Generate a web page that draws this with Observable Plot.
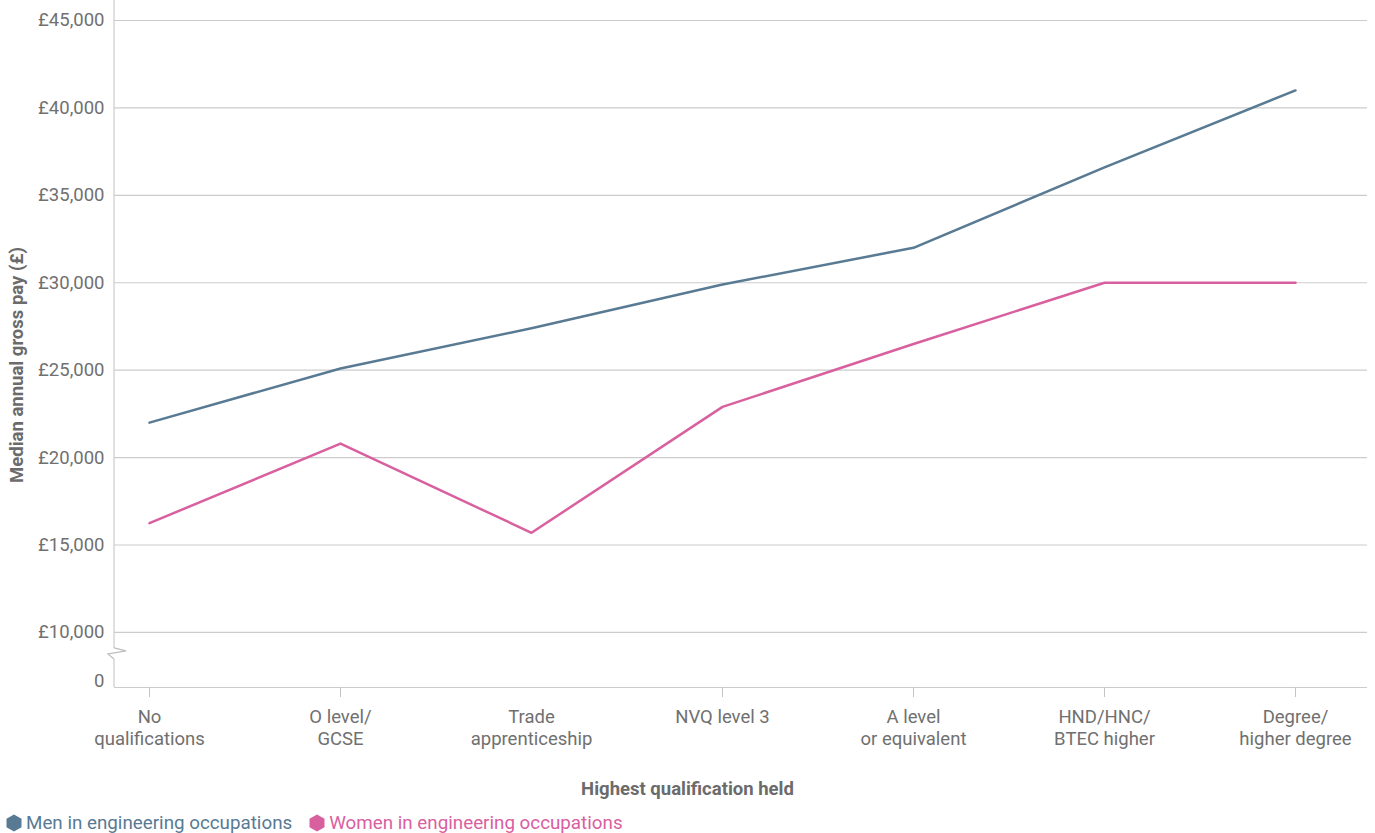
<!DOCTYPE html>
<html>
<head>
<meta charset="utf-8">
<script src="https://cdn.jsdelivr.net/npm/d3@7"></script>
<script src="https://cdn.jsdelivr.net/npm/@observablehq/plot@0.6"></script>
<style>
  body { margin: 0; background: #fff; font-family: Roboto, "Noto Sans", sans-serif; }
  #xtitle { width: 1375px; text-align: center; font-weight: 700; font-size: 18.5px; color: #6b6b6b; line-height: 22px; margin-top: 16px; }
  #legend { display: flex; align-items: center; margin: 12px 0 0 6px; font-size: 18.8px; line-height: 22px; }
  #legend .item { display: flex; align-items: center; margin-right: 17px; }
  #legend svg { margin-right: 4px; }
</style>
</head>
<body>
<div id="chart"></div>
<div id="xtitle">Highest qualification held</div>
<div id="legend"></div>
<script>
// Median annual gross pay by highest qualification held
const qualifications = [
  "No qualifications", "O level/GCSE", "Trade apprenticeship", "NVQ level 3",
  "A level or equivalent", "HND/HNC/BTEC higher", "Degree/higher degree"
];
const qualificationLabels = [
  "No\nqualifications", "O level/\nGCSE", "Trade\napprenticeship", "NVQ level 3",
  "A level\nor equivalent", "HND/HNC/\nBTEC higher", "Degree/\nhigher degree"
];
// categories that carry a tick mark on the x axis
const tickedQualifications = [
  "No qualifications", "O level/GCSE", "NVQ level 3",
  "A level or equivalent", "HND/HNC/BTEC higher", "Degree/higher degree"
];
const seriesNames = ["Men in engineering occupations", "Women in engineering occupations"];
const seriesColors = ["#587a93", "#d9609f"];
const menPay = [22000, 25100, 27400, 29900, 32000, 36600, 41000];
const womenPay = [16250, 20800, 15700, 22900, 26500, 30000, 30000];
const yTicks = [10000, 15000, 20000, 25000, 30000, 35000, 40000, 45000];
const baseTicks = [0];

const rows = [
  ...qualifications.map((q, i) => ({qualification: q, pay: menPay[i], series: seriesNames[0]})),
  ...qualifications.map((q, i) => ({qualification: q, pay: womenPay[i], series: seriesNames[1]}))
];
const labelOf = new Map(qualifications.map((q, i) => [q, qualificationLabels[i]]));
const money = d3.format(",");
const textColor = "#707070";
const lineGrey = "#cccccc";
const fontSize = 18.5;

// The stretch from 0 to £10,000 is squeezed into a short broken segment.
const breakStart = 10000;
const breakSpan = 3150;
const squeeze = v => v >= breakStart ? v : breakStart - breakSpan + v * breakSpan / breakStart;

// left axis line, interrupted by a zig-zag below £10,000
function leftAxis(index, scales, values, dims) {
  const x0 = dims.marginLeft;
  const bottom = dims.height - dims.marginBottom;
  const yb = scales.y(breakStart) + 21.5;
  const g = d3.create("svg:g")
    .attr("fill", "none").attr("stroke", lineGrey).attr("stroke-width", 1.2);
  g.append("line").attr("x1", x0).attr("x2", x0).attr("y1", 0).attr("y2", yb - 5.5);
  g.append("line").attr("x1", x0).attr("x2", x0).attr("y1", yb + 5.5).attr("y2", bottom);
  g.append("polyline")
    .attr("points", `${x0},${yb - 5.5} ${x0 + 12},${yb - 2.5} ${x0 - 6},${yb + 0.5} ${x0},${yb + 5.5}`)
    .attr("stroke", "#bdbdbd");
  return g.node();
}

const chart = Plot.plot({
  width: 1375,
  height: 762,
  marginLeft: 114,
  marginRight: 8,
  marginTop: 20,
  marginBottom: 75,
  style: {fontFamily: "Roboto, 'Noto Sans', sans-serif", fontSize: `${fontSize}px`, color: textColor, background: "#fff"},
  x: {domain: qualifications, range: [147.5, 1297], padding: 0, type: "point"},
  y: {type: "linear", transform: squeeze, domain: [squeeze(0), 45000]},
  color: {domain: seriesNames, range: seriesColors},
  marks: [
    Plot.gridY(yTicks, {stroke: lineGrey, strokeOpacity: 1, strokeWidth: 1.2}),
    Plot.ruleY(baseTicks, {stroke: lineGrey, strokeWidth: 1.2}),
    leftAxis,
    Plot.axisY({ticks: yTicks, tickSize: 0, tickPadding: 10, tickFormat: d => "£" + money(d), fill: textColor, label: null}),
    Plot.text(baseTicks, {y: d => d, text: d => String(d), frameAnchor: "left", textAnchor: "end", dx: -10, dy: -6, fill: textColor}),
    Plot.axisX({ticks: tickedQualifications, tickSize: 10, stroke: "#c4c4c4", tickFormat: () => "", label: null}),
    Plot.axisX({ticks: qualifications, tickSize: 0, tickPadding: 20, tickFormat: d => labelOf.get(d), lineHeight: 1.2, fill: textColor, label: null}),
    Plot.text(["Median annual gross pay (£)"], {
      frameAnchor: "left", textAnchor: "middle", rotate: -90, dx: -97, dy: 11,
      fontWeight: "bold", fontSize, fill: "#6b6b6b"
    }),
    Plot.line(rows, {x: "qualification", y: "pay", stroke: "series", strokeWidth: 2.5})
  ]
});
document.getElementById("chart").appendChild(chart);

// legend with hexagon swatches
const legend = d3.select("#legend");
seriesNames.forEach((name, i) => {
  const item = legend.append("div").attr("class", "item").style("color", seriesColors[i]);
  const s = item.append("svg").attr("width", 16).attr("height", 18);
  s.append("polygon")
    .attr("points", "8,0.5 15.5,4.75 15.5,13.25 8,17.5 0.5,13.25 0.5,4.75")
    .attr("fill", seriesColors[i]);
  item.append("span").text(name);
});
</script>
</body>
</html>
